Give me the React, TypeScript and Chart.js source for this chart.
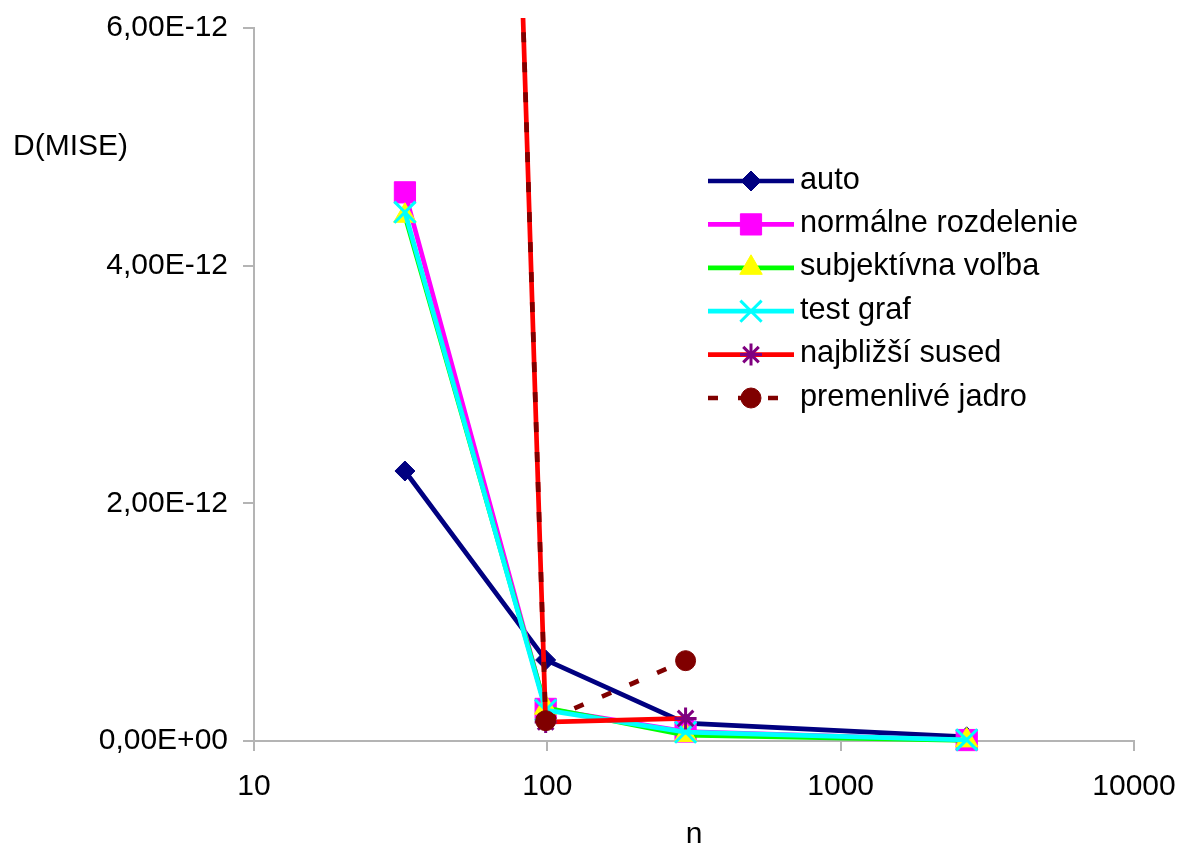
import React, { useEffect, useRef } from 'react';
import { Chart, registerables } from 'chart.js';
import { drawPoint } from 'chart.js/helpers';

Chart.register(...registerables);

// Sample sizes n (log axis) and D(MISE) per bandwidth method
const sampleSizes = [32.7, 98.7, 296, 2690];
const autoValues = [2.272e-12, 0.682e-12, 0.151e-12, 0.035e-12];
const normalValues = [4.617e-12, 0.27e-12, 0.08e-12, 0.008e-12];
const subjectiveValues = [4.42e-12, 0.28e-12, 0.05e-12, 0.005e-12];
const testGraphValues = [4.45e-12, 0.26e-12, 0.075e-12, 0.01e-12];
const nearestValues = [3.7e-11, 0.16e-12, 0.19e-12];
const variableKernelValues = [3.7e-11, 0.171e-12, 0.676e-12];

const seriesLabels = [
  'auto',
  'normálne rozdelenie',
  'subjektívna voľba',
  'test graf',
  'najbližší sused',
  'premenlivé jadro',
];

const yTickValues = [0, 2e-12, 4e-12, 6e-12];
const xTickValues = [10, 100, 1000, 10000];
const yAxisTitle = 'D(MISE)';
const xAxisTitle = 'n';

const FONT = '"Liberation Sans", Arial, sans-serif';
const AXIS_GRAY = '#b4b4b4';

// Excel-like scientific label: 2,00E-12
function sciLabel(v: number): string {
  const [mant, exp] = v.toExponential(2).split('e');
  const sign = exp[0] === '-' ? '-' : '+';
  const digits = exp.replace(/^[+-]/, '').padStart(2, '0');
  return mant.replace('.', ',') + 'E' + sign + digits;
}

const toPoints = (vals: number[]) => vals.map((y, i) => ({ x: sampleSizes[i], y }));

const seriesStyles = [
  { line: '#000080', fill: '#000080', stroke: '#000080', style: 'rectRot', radius: 10, pbw: 1, dash: [] as number[] },
  { line: '#ff00ff', fill: '#ff00ff', stroke: '#ff00ff', style: 'rect', radius: 15, pbw: 1, dash: [] },
  { line: '#00ff00', fill: '#ffff00', stroke: '#ffff00', style: 'triangle', radius: 13, pbw: 1, dash: [] },
  { line: '#00ffff', fill: '#00ffff', stroke: '#00ffff', style: 'crossRot', radius: 15, pbw: 3, dash: [] },
  { line: '#ff0000', fill: '#800080', stroke: '#800080', style: 'star', radius: 11, pbw: 3, dash: [] },
  { line: '#800000', fill: '#800000', stroke: '#800000', style: 'circle', radius: 10, pbw: 1, dash: [10, 20] },
];

const seriesValues = [autoValues, normalValues, subjectiveValues, testGraphValues, nearestValues, variableKernelValues];

// Legend box inside the plot and the free-standing axis titles
const keyAndTitles = {
  id: 'keyAndTitles',
  afterDraw(chart: any) {
    const ctx: CanvasRenderingContext2D = chart.ctx;
    const lineStart = 708;
    const lineEnd = 794;
    const markX = 751;
    const textX = 800;
    const firstRow = 181;
    const rowGap = 43.4;
    chart.data.datasets.forEach((ds: any, i: number) => {
      const y = firstRow + i * rowGap;
      ctx.save();
      ctx.strokeStyle = ds.borderColor;
      ctx.lineWidth = ds.borderWidth;
      ctx.setLineDash(ds.borderDash || []);
      ctx.beginPath();
      ctx.moveTo(lineStart, y);
      ctx.lineTo(lineEnd, y);
      ctx.stroke();
      ctx.setLineDash([]);
      ctx.fillStyle = ds.pointBackgroundColor;
      ctx.strokeStyle = ds.pointBorderColor;
      ctx.lineWidth = ds.pointBorderWidth;
      drawPoint(ctx, { pointStyle: ds.pointStyle, radius: ds.pointRadius, rotation: 0, borderWidth: ds.pointBorderWidth } as any, markX, y);
      ctx.fillStyle = '#000';
      ctx.font = `30.7px ${FONT}`;
      ctx.textAlign = 'left';
      ctx.textBaseline = 'alphabetic';
      ctx.fillText(ds.label, textX, y + 7.5);
      ctx.restore();
    });
    ctx.save();
    ctx.fillStyle = '#000';
    ctx.font = `30px ${FONT}`;
    ctx.textBaseline = 'alphabetic';
    ctx.textAlign = 'left';
    ctx.fillText(yAxisTitle, 13, 155);
    ctx.textAlign = 'center';
    ctx.fillText(xAxisTitle, (chart.chartArea.left + chart.chartArea.right) / 2, 843);
    ctx.restore();
  },
};

export default function App() {
  const ref = useRef<HTMLCanvasElement>(null);

  useEffect(() => {
    if (!ref.current) return;
    Chart.defaults.font.family = FONT;
    const datasets = seriesValues.map((vals, i) => {
      const s = seriesStyles[i];
      return {
        label: seriesLabels[i],
        data: toPoints(vals),
        borderColor: s.line,
        backgroundColor: s.fill,
        borderWidth: 4.7,
        borderDash: s.dash,
        pointStyle: s.style,
        pointRadius: s.radius,
        pointHoverRadius: s.radius,
        pointBackgroundColor: s.fill,
        pointBorderColor: s.stroke,
        pointBorderWidth: s.pbw,
        tension: 0,
        fill: false,
        clip: { left: 12, right: 12, top: 10, bottom: 12 },
        order: seriesValues.length - 1 - i,
      };
    });

    const chart = new Chart(ref.current, {
      type: 'line',
      data: { datasets },
      plugins: [keyAndTitles],
      options: {
        animation: false,
        responsive: false,
        devicePixelRatio: 1,
        events: [],
        layout: { padding: { left: 0, top: 28, right: 48, bottom: 0 } },
        plugins: { legend: { display: false }, tooltip: { enabled: false } },
        scales: {
          x: {
            type: 'logarithmic',
            min: 10,
            max: 10000,
            afterBuildTicks: (axis: any) => {
              axis.ticks = xTickValues.map((value) => ({ value }));
            },
            afterFit: (axis: any) => {
              axis.height = 106;
              axis.paddingLeft = 0;
              axis.paddingRight = 0;
            },
            border: { display: true, color: AXIS_GRAY, width: 2 },
            grid: { drawOnChartArea: false, drawTicks: true, tickLength: 10, color: AXIS_GRAY, lineWidth: 2 },
            ticks: {
              autoSkip: false,
              maxRotation: 0,
              padding: 18,
              color: '#000',
              font: { size: 30, family: FONT },
              callback: (v: any) => String(v),
            },
          },
          y: {
            type: 'linear',
            min: 0,
            max: 6e-12,
            afterBuildTicks: (axis: any) => {
              axis.ticks = yTickValues.map((value) => ({ value }));
            },
            afterFit: (axis: any) => {
              axis.width = 254;
              axis.paddingTop = 0;
              axis.paddingBottom = 0;
            },
            border: { display: true, color: AXIS_GRAY, width: 2 },
            grid: { drawOnChartArea: false, drawTicks: true, tickLength: 11, color: AXIS_GRAY, lineWidth: 2 },
            ticks: {
              padding: 15,
              color: '#000',
              font: { size: 30, family: FONT },
              callback: (v: any) => sciLabel(Number(v)),
            },
          },
        },
      } as any,
    });
    return () => chart.destroy();
  }, []);

  return (
    <div style={{ position: 'fixed', left: 0, top: 0, width: 1182, height: 847, background: '#fff' }}>
      <canvas ref={ref} width={1182} height={847} style={{ display: 'block' }} />
    </div>
  );
}
